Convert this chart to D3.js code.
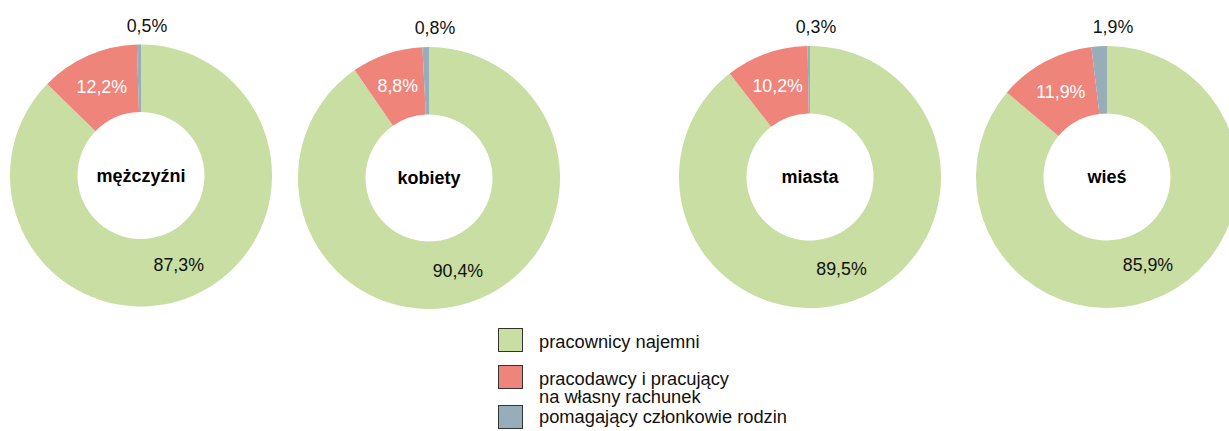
<!DOCTYPE html>
<html>
<head>
<meta charset="utf-8">
<title>Pracujący według statusu zatrudnienia</title>
<script src="https://cdn.jsdelivr.net/npm/d3@7/dist/d3.min.js"></script>
<style>
  * { margin: 0; padding: 0; }
  body { background: #fff; overflow: hidden; }
  svg text { font-family: Arial, "Liberation Sans", sans-serif; }
</style>
</head>
<body>
<div id="show"></div>
<script>
// dane
var groups = ["mężczyźni", "kobiety", "miasta", "wieś"];
var categories = ["pracownicy najemni", "pracodawcy i pracujący\nna własny rachunek", "pomagający członkowie rodzin"];
var pracownicy = [87.3, 90.4, 89.5, 85.9];
var pracodawcy = [12.2, 8.8, 10.2, 11.9];
var pomagajacy = [0.5, 0.8, 0.3, 1.9];

// wygląd
var colors = ["#c8dea3", "#ef847b", "#97aeba"];
var centers = [[141, 175.5], [429, 178], [810, 177], [1107, 177]];
var rOuter = 131, rInner = 63.5;

var svg = d3.select("#show").append("svg")
            .attr("width", 1229)
            .attr("height", 431);

var pie = d3.pie().sort(null).value(function(d){ return d.v; });
var arc = d3.arc().innerRadius(rInner).outerRadius(rOuter);
var fmt = function(v){ return d3.format(".1f")(v).replace(".", ",") + "%"; };

groups.forEach(function(name, i){
  var rows = [
    {k: 0, v: pracownicy[i]},
    {k: 1, v: pracodawcy[i]},
    {k: 2, v: pomagajacy[i]}
  ];
  var g = svg.append("g")
             .attr("transform", "translate(" + centers[i][0] + "," + centers[i][1] + ")");
  var arcs = pie(rows);

  g.selectAll("path").data(arcs).enter().append("path")
   .attr("d", arc)
   .attr("fill", function(d){ return colors[d.data.k]; });

  // etykiety w pierścieniu
  g.selectAll("text.val").data(arcs.filter(function(d){ return d.data.k < 2; }))
   .enter().append("text")
   .attr("class", "val")
   .attr("transform", function(d){ return "translate(" + arc.centroid(d) + ")"; })
   .attr("text-anchor", "middle")
   .attr("dy", "0.35em")
   .attr("font-size", 17.8)
   .attr("fill", function(d){ return d.data.k == 1 ? "#fff" : "#111"; })
   .text(function(d){ return fmt(d.data.v); });

  // mały wycinek - etykieta nad wykresem
  g.append("text")
   .attr("x", 6)
   .attr("y", -rOuter - 19)
   .attr("dy", "0.35em")
   .attr("text-anchor", "middle")
   .attr("font-size", 17.8)
   .attr("fill", "#111")
   .text(fmt(pomagajacy[i]));

  g.append("text")
   .attr("text-anchor", "middle")
   .attr("dy", "0.35em")
   .attr("font-size", 18)
   .attr("font-weight", "bold")
   .attr("fill", "#000")
   .text(name);
});

// legenda
var boxY = [340, 377, 417];
var textY = [348, 385, 423];
var leg = svg.append("g").attr("class", "legend");
categories.forEach(function(c, i){
  leg.append("rect")
     .attr("x", 498.5)
     .attr("y", boxY[i] - 11.5)
     .attr("width", 24)
     .attr("height", 23)
     .attr("fill", colors[i])
     .attr("stroke", "#333")
     .attr("stroke-width", 1);
  var t = leg.append("text")
     .attr("x", 539)
     .attr("y", textY[i])
     .attr("font-size", 18.3)
     .attr("fill", "#111");
  c.split("\n").forEach(function(line, j){
    t.append("tspan")
     .attr("x", 539)
     .attr("dy", j == 0 ? 0 : 18)
     .text(line);
  });
});
</script>
</body>
</html>
